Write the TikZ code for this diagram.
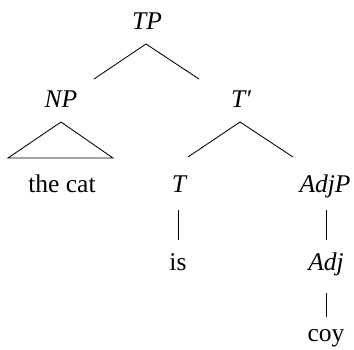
\documentclass[tikz,border=0pt]{standalone}
\usepackage{fontspec}
\setmainfont{Liberation Serif}
\usetikzlibrary{calc}
\begin{document}
\begin{tikzpicture}[x=1pt,y=-1pt,
  lbl/.style={anchor=base,inner sep=0pt,font=\fontsize{25.5}{30}\selectfont\itshape},
  wrd/.style={anchor=base,inner sep=0pt,font=\fontsize{25.5}{30}\selectfont},
  br/.style={line width=0.85pt}]
\useasboundingbox (0,0) rectangle (354,349);
\node[lbl] (TP) at (147,29) {TP};
\node[lbl] (NP) at (61,107) {NP};
\node[lbl] (Tbar) at (241,107) {T′};
\node[wrd] (thecat) at (62,192) {the cat};
\node[lbl] (T) at (179,192) {T};
\node[lbl] (AdjP) at (325,192) {AdjP};
\node[wrd] (is) at (178,270) {is};
\node[lbl] (Adj) at (326,270) {Adj};
\node[wrd] (coy) at (326,341) {coy};
% TP branches
\draw[br] ($(NP.base)+(33,-28)$) -- ($(TP.base)+(-1,15)$) -- ($(Tbar.base)+(-42,-28)$);
% NP triangle
\draw[br] ($(NP.base)+(0,15)$) -- ($(thecat.base)+(-54,-34)$) -- ($(thecat.base)+(51,-34)$) -- cycle;
% T' branches
\draw[br] ($(T.base)+(9,-35)$) -- ($(Tbar.base)+(-1,15)$) -- ($(AdjP.base)+(-32,-35)$);
% unary branches
\draw[br] ($(T.base)+(-1,18)$) -- ($(is.base)+(0,-30)$);
\draw[br] ($(AdjP.base)+(1,18)$) -- ($(Adj.base)+(0,-30)$);
\draw[br] ($(Adj.base)+(0,23)$) -- ($(coy.base)+(0,-24)$);
\end{tikzpicture}
\end{document}
